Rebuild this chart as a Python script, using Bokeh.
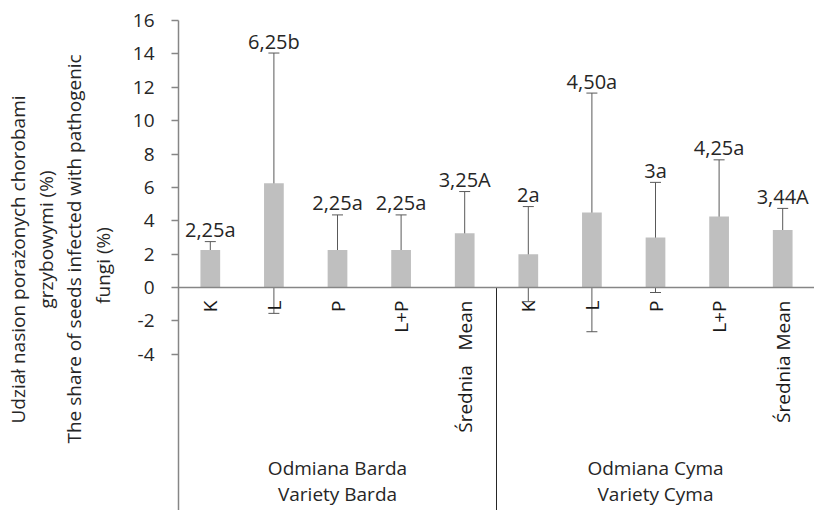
import math
from bokeh.plotting import figure
from bokeh.models import Range1d, FixedTicker, ColumnDataSource, Whisker, Span, TeeHead, Title
from bokeh.embed import file_html
from bokeh.resources import INLINE
from bokeh.core.properties import value

# ---- data ----
categories = ["K", "L", "P", "L+P", "Średnia\u00a0\u00a0 Mean", "K", "L", "P", "L+P", "Średnia Mean"]
means = [2.25, 6.25, 2.25, 2.25, 3.25, 2.0, 4.5, 3.0, 4.25, 3.44]
errors = [0.5, 7.8, 2.1, 2.1, 2.5, 2.85, 7.15, 3.3, 3.4, 1.3]
bar_labels = ["2,25a", "6,25b", "2,25a", "2,25a", "3,25A", "2a", "4,50a", "3a", "4,25a", "3,44A"]
groups_pl = ["Odmiana Barda", "Odmiana Cyma"]
groups_en = ["Variety Barda", "Variety Cyma"]
y_ticks = [-4, -2, 0, 2, 4, 6, 8, 10, 12, 14, 16]
y_tick_labels = ["-4", "-2", "0", "2", "4", "6", "8", "10", "12", "14", "16"]
title_lines = ["Udział nasion porażonych chorobami", "grzybowymi (%)",
               "The share of seeds infected with pathogenic", "fungi (%)"]

FONT = "Open Sans"
W, H = 814, 510
LEFT, TOP = 178, 20
px_per_unit = 267 / 16.0
y_top = 16
y_bottom = y_top - (H - TOP) / px_per_unit

n = len(categories)
xs = [i + 0.5 for i in range(n)]
upper = [m + e for m, e in zip(means, errors)]
lower = [m - e for m, e in zip(means, errors)]
src = ColumnDataSource(dict(x=xs, mean=means, upper=upper, lower=lower,
                            lab=bar_labels, cat=categories))

p = figure(width=W, height=H, output_backend="svg", toolbar_location=None,
           x_range=Range1d(0, n), y_range=Range1d(y_bottom, y_top),
           x_axis_location=None, min_border_left=LEFT, min_border_right=0,
           min_border_top=TOP, min_border_bottom=0)
p.outline_line_color = None
p.xgrid.visible = False
p.ygrid.visible = False
p.background_fill_color = "white"

ax = p.yaxis[0]
ax.ticker = FixedTicker(ticks=y_ticks)
ax.major_label_overrides = {t: s for t, s in zip(y_ticks, y_tick_labels)}
ax.axis_line_color = "#868686"
ax.axis_line_width = 1.5
ax.major_tick_line_color = "#868686"
ax.major_tick_line_width = 1.5
ax.major_tick_out = 7
ax.major_tick_in = 0
ax.minor_tick_line_color = None
ax.major_label_text_font = FONT
ax.major_label_text_font_size = "19px"
ax.major_label_text_color = "#262626"
ax.major_label_standoff = 17
# last title line is the axis label itself
ax.axis_label = title_lines[3]
ax.axis_label_text_font = FONT
ax.axis_label_text_font_style = "normal"
ax.axis_label_text_font_size = "19px"
ax.axis_label_text_color = "#262626"
ax.axis_label_standoff = 14

# remaining title lines: one Title per line, stacked outward from the axis
# (offset = distance of the line's start from the bottom edge, in pixels)
title_offsets = [87, 202, 67]
for line, off in reversed(list(zip(title_lines[:3], title_offsets))):
    t = Title(text=line, align="left", offset=off, text_font=FONT,
              text_font_size="19px", text_font_style="normal",
              text_color="#262626", standoff=0)
    p.add_layout(t, "left")

# bars
p.vbar(x="x", top="mean", bottom=0, width=0.31, source=src,
       fill_color="#BFBFBF", line_color=None)

# zero line
p.add_layout(Span(location=0, dimension="width", line_color="#868686", line_width=1.5))

# error bars
wk = Whisker(base="x", upper="upper", lower="lower", source=src,
             line_color="#595959", line_width=1,
             upper_head=TeeHead(size=11, line_color="#595959", line_width=1),
             lower_head=TeeHead(size=11, line_color="#595959", line_width=1))
p.add_layout(wk)

# value labels
p.text(x="x", y="upper", text="lab", source=src, text_align="center",
       text_baseline="alphabetic", y_offset=-12, text_font=value(FONT),
       text_font_size="20px", text_color="#262626")

# category labels (rotated)
p.text(x="x", y=0, text="cat", source=src, angle=math.pi / 2,
       text_align="right", text_baseline="middle", y_offset=13,
       text_font=value(FONT), text_font_size="19px", text_color="#1a1a1a")

# group dividers
p.segment(x0=[5, 10], y0=[0, 0], x1=[5, 10], y1=[y_bottom, y_bottom],
          line_color="#262626", line_width=1)

# group labels
gsrc = ColumnDataSource(dict(x=[2.5, 7.5], y=[0, 0], pl=groups_pl, en=groups_en))
p.text(x="x", y="y", text="pl", source=gsrc, text_align="center",
       text_baseline="middle", y_offset=180, text_font=value(FONT),
       text_font_size="19px", text_color="#262626")
p.text(x="x", y="y", text="en", source=gsrc, text_align="center",
       text_baseline="middle", y_offset=206, text_font=value(FONT),
       text_font_size="19px", text_color="#262626")

open("out.html", "w").write(file_html(p, INLINE))
